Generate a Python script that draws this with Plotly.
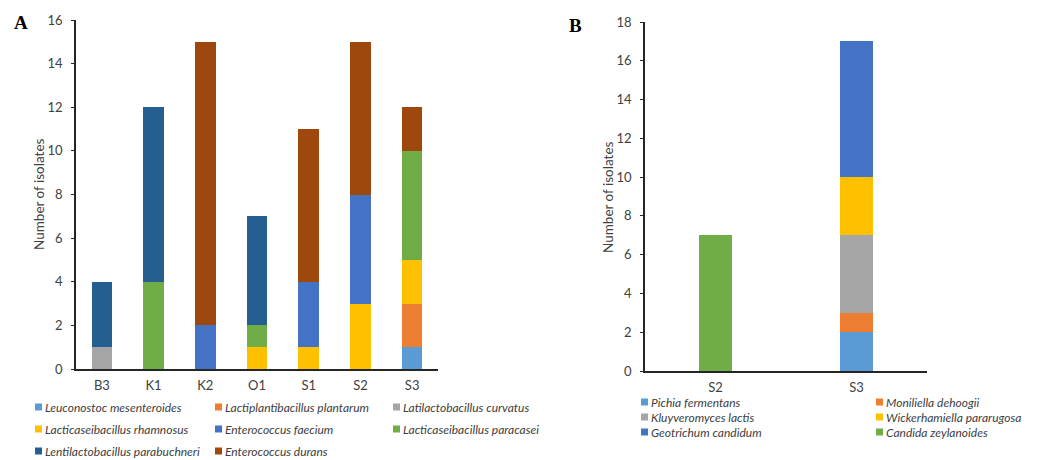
import plotly.graph_objects as go

# ---------------- Data: panel A (bacteria) ----------------
cats_A = ["B3", "K1", "K2", "O1", "S1", "S2", "S3"]
names_A = ["Leuconostoc mesenteroides", "Lactiplantibacillus plantarum",
           "Latilactobacillus curvatus", "Lacticaseibacillus rhamnosus",
           "Enterococcus faecium", "Lacticaseibacillus paracasei",
           "Lentilactobacillus parabuchneri", "Enterococcus durans"]
leuconostoc_mesenteroides = [0, 0, 0, 0, 0, 0, 1]
lactiplantibacillus_plantarum = [0, 0, 0, 0, 0, 0, 2]
latilactobacillus_curvatus = [1, 0, 0, 0, 0, 0, 0]
lacticaseibacillus_rhamnosus = [0, 0, 0, 1, 1, 3, 2]
enterococcus_faecium = [0, 0, 2, 0, 3, 5, 0]
lacticaseibacillus_paracasei = [0, 4, 0, 1, 0, 0, 5]
lentilactobacillus_parabuchneri = [3, 8, 0, 5, 0, 0, 0]
enterococcus_durans = [0, 0, 13, 0, 7, 7, 2]
values_A = [leuconostoc_mesenteroides, lactiplantibacillus_plantarum,
            latilactobacillus_curvatus, lacticaseibacillus_rhamnosus,
            enterococcus_faecium, lacticaseibacillus_paracasei,
            lentilactobacillus_parabuchneri, enterococcus_durans]

# ---------------- Data: panel B (yeasts) ----------------
cats_B = ["S2", "S3"]
names_B = ["Pichia fermentans", "Moniliella dehoogii", "Kluyveromyces lactis",
           "Wickerhamiella pararugosa", "Geotrichum candidum", "Candida zeylanoides"]
pichia_fermentans = [0, 2]
moniliella_dehoogii = [0, 1]
kluyveromyces_lactis = [0, 4]
wickerhamiella_pararugosa = [0, 3]
geotrichum_candidum = [0, 7]
candida_zeylanoides = [7, 0]
values_B = [pichia_fermentans, moniliella_dehoogii, kluyveromyces_lactis,
            wickerhamiella_pararugosa, geotrichum_candidum, candida_zeylanoides]

# ---------------- Styles ----------------
colors_A = ["#5B9BD5", "#ED7D31", "#A5A5A5", "#FFC000",
            "#4472C4", "#70AD47", "#255E91", "#9E480E"]
colors_B = ["#5B9BD5", "#ED7D31", "#A5A5A5", "#FFC000", "#4472C4", "#70AD47"]

OFF = 8                      # page body margin in the browser
W, H = 1041 - OFF, 460 - OFF
FONT = "Lato"
TXT = "#404040"


def px(x):
    return (x - OFF) / W


def py(y):
    return 1 - (y - OFF) / H


fig = go.Figure()

for name, vals, col in zip(names_A, values_A, colors_A):
    fig.add_trace(go.Bar(x=cats_A, y=vals, name=name, marker_color=col,
                         marker_line_width=0, width=0.4,
                         xaxis="x", yaxis="y", showlegend=False))

for name, vals, col in zip(names_B, values_B, colors_B):
    fig.add_trace(go.Bar(x=cats_B, y=vals, name=name, marker_color=col,
                         marker_line_width=0, width=0.24,
                         xaxis="x2", yaxis="y2", showlegend=False))

axis_common = dict(showline=True, linecolor="#262626", linewidth=1.5,
                   showgrid=False, zeroline=False, automargin=False,
                   tickfont=dict(family=FONT, size=13, color=TXT))

fig.update_layout(
    width=W, height=H,
    margin=dict(l=0, r=0, t=0, b=0, autoexpand=False),
    paper_bgcolor="white", plot_bgcolor="white",
    barmode="stack",
    font=dict(family=FONT, color=TXT),
    xaxis=dict(domain=[px(76), px(438)], anchor="y", ticks="",
               ticklabelstandoff=4, **axis_common),
    yaxis=dict(domain=[py(369), py(20)], anchor="x", range=[0, 16], dtick=2,
               ticks="outside", ticklen=3, tickcolor="#262626",
               ticklabelstandoff=6, **axis_common),
    xaxis2=dict(domain=[px(645), px(927)], anchor="y2", ticks="",
                ticklabelstandoff=4, **axis_common),
    yaxis2=dict(domain=[py(371), py(22)], anchor="x2", range=[0, 18], dtick=2,
                ticks="outside", ticklen=3, tickcolor="#262626",
                ticklabelstandoff=6, **axis_common),
)

# Y-axis titles
for x, y in [(39, 194), (608, 197)]:
    fig.add_annotation(text="Number of isolates", x=px(x), y=py(y),
                       xref="paper", yref="paper", showarrow=False,
                       textangle=-90, xanchor="center", yanchor="middle",
                       font=dict(family=FONT, size=13.5, color=TXT))

# Panel letters
for letter, x, y in [("A", 21, 23), ("B", 575, 25)]:
    fig.add_annotation(text="<b>" + letter + "</b>", x=px(x), y=py(y),
                       xref="paper", yref="paper", showarrow=False,
                       xanchor="center", yanchor="middle",
                       font=dict(family="Liberation Serif", size=19, color="black"))


# Custom legends (grid layout like the original)
def add_legend(names, colors, col_x, row_y, ncols):
    for i, (name, col) in enumerate(zip(names, colors)):
        r, c = divmod(i, ncols)
        x0 = col_x[c]
        yc = row_y[r]
        fig.add_shape(type="rect", xref="paper", yref="paper",
                      x0=px(x0), x1=px(x0 + 7), y0=py(yc - 3.5), y1=py(yc + 3.5),
                      fillcolor=col, line=dict(width=0))
        fig.add_annotation(text="<i>" + name + "</i>", x=px(x0 + 8), y=py(yc),
                           xref="paper", yref="paper", showarrow=False,
                           xanchor="left", yanchor="middle",
                           font=dict(family=FONT, size=12, color=TXT))


add_legend(names_A, colors_A, [35, 215, 393], [407, 429, 451], 3)
add_legend(names_B, colors_B, [641, 876], [402, 417, 432], 2)

fig.write_html("out.html")
